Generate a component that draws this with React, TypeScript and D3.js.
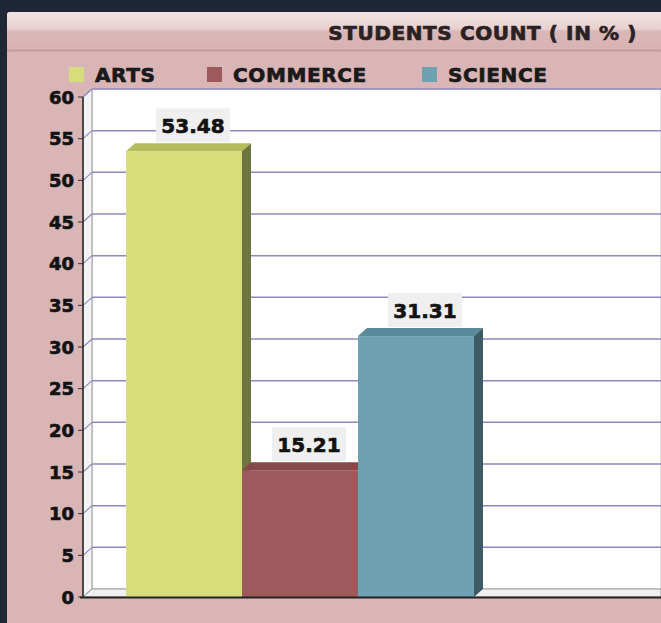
import React from "react";
import * as d3 from "d3";

// chart data
const categories = ["ARTS", "COMMERCE", "SCIENCE"];
const values = [53.48, 15.21, 31.31];
const yTicks = [0, 5, 10, 15, 20, 25, 30, 35, 40, 45, 50, 55, 60];
const title = "STUDENTS COUNT ( IN % )";

const colors: Record<string, { front: string; top: string; side: string }> = {
	ARTS: { front: "#d6dd7a", top: "#b4bc5c", side: "#6e7440" },
	COMMERCE: { front: "#9c5a5c", top: "#864848", side: "#643535" },
	SCIENCE: { front: "#6ea1b2", top: "#588a9a", side: "#3d5b64" },
};

const W = 661;
const H = 623;
const DX = 9; // 3d depth
const DY = 8;
const font = "'DejaVu Sans', sans-serif";

export default function App() {
	const axisX = 83;
	const yScale = d3.scaleLinear().domain([0, 60]).range([597, 97]);
	const xScale = d3.scaleBand().domain(categories).range([126, 474]).padding(0);

	const gridTicks = yTicks.filter((t) => t > 0);

	// heavy text, the original has a thick dark glyph edge
	const heavy = { fontFamily: font, fontWeight: "bold" as const, stroke: "#1a1a1a", strokeWidth: 0.7 };

	return (
		<svg width={W} height={H} style={{ position: "absolute", left: 0, top: 0 }}>
			<defs>
				<linearGradient id="hdr" x1="0" y1="0" x2="0" y2="1">
					<stop offset="0" stopColor="#f2e3e3" />
					<stop offset="0.45" stopColor="#e8d0d0" />
					<stop offset="0.5" stopColor="#dbb8b8" />
					<stop offset="1" stopColor="#d7b2b2" />
				</linearGradient>
			</defs>
			<rect x={0} y={0} width={W} height={H} fill="#1f2637" />
			<rect x={7} y={12} width={W} height={H} rx={3} fill="#d9b5b5" />
			<rect x={7} y={12} width={W} height={38} rx={3} fill="url(#hdr)" />
			<line x1={7} x2={W} y1={50.5} y2={50.5} stroke="#c49c9c" strokeWidth={2} />
			<text x={637} y={40} textAnchor="end" fontSize={20} letterSpacing={0.6} fill="#2a2222" {...heavy} stroke="#2a2222">
				{title}
			</text>

			{/* legend */}
			{categories.map((c, i) => {
				const lx = [69, 207, 422][i];
				return (
					<g key={c}>
						<rect x={lx} y={67} width={15} height={15} fill={colors[c].front} />
						<text x={lx + 26} y={82} fontSize={20} letterSpacing={0.6} fill="#1a1a1a" {...heavy}>
							{c}
						</text>
					</g>
				);
			})}

			{/* back wall */}
			<rect x={axisX + DX} y={yScale(60) - DY} width={W - axisX - DX} height={yScale(0) - yScale(60)} fill="#ffffff" stroke="#bbbbbb" strokeWidth={1} />
			{/* left wall */}
			<polygon
				points={`${axisX},${yScale(60)} ${axisX + DX},${yScale(60) - DY} ${axisX + DX},${yScale(0) - DY} ${axisX},${yScale(0)}`}
				fill="#f3f3f3"
				stroke="#999"
				strokeWidth={1}
			/>
			{/* floor */}
			<polygon
				points={`${axisX},${yScale(0)} ${axisX + DX},${yScale(0) - DY} ${W},${yScale(0) - DY} ${W},${yScale(0)}`}
				fill="#f0f0f0"
				stroke="#999"
				strokeWidth={1}
			/>

			{/* grid */}
			{gridTicks.map((t) => (
				<g key={t}>
					<line x1={axisX + DX} x2={W} y1={yScale(t) - DY} y2={yScale(t) - DY} stroke="#8e88c2" strokeWidth={1.5} />
					<line x1={axisX} x2={axisX + DX} y1={yScale(t)} y2={yScale(t) - DY} stroke="#8e88c2" strokeWidth={1.2} />
				</g>
			))}

			{/* bars */}
			{categories.map((c, i) => {
				const v = values[i];
				const x0 = xScale(c) as number;
				const x1 = x0 + xScale.bandwidth();
				const yt = yScale(v);
				const y0 = yScale(0);
				const col = colors[c];
				return (
					<g key={c}>
						<rect x={x0} y={yt} width={x1 - x0} height={y0 - yt} fill={col.front} />
						<polygon points={`${x0},${yt} ${x0 + DX},${yt - DY} ${x1 + DX},${yt - DY} ${x1},${yt}`} fill={col.top} />
						<polygon points={`${x1},${yt} ${x1 + DX},${yt - DY} ${x1 + DX},${y0 - DY} ${x1},${y0}`} fill={col.side} />
					</g>
				);
			})}

			{/* value labels */}
			{categories.map((c, i) => {
				const v = values[i];
				const cx = (xScale(c) as number) + xScale.bandwidth() / 2 + DX;
				const bottom = yScale(v) - DY - 1;
				return (
					<g key={c}>
						<rect x={cx - 37} y={bottom - 34} width={74} height={34} fill="#efefef" />
						<text x={cx} y={bottom - 9} textAnchor="middle" fontSize={20} fill="#111" {...heavy}>
							{v.toFixed(2)}
						</text>
					</g>
				);
			})}

			{/* axes */}
			<line x1={axisX} x2={axisX} y1={yScale(60)} y2={yScale(0)} stroke="#222" strokeWidth={1.5} />
			<line x1={axisX - 3} x2={W} y1={yScale(0) + 0.5} y2={yScale(0) + 0.5} stroke="#222" strokeWidth={2} />
			{yTicks.map((t) => (
				<g key={t}>
					<line x1={axisX - 5} x2={axisX} y1={yScale(t)} y2={yScale(t)} stroke="#333" strokeWidth={1} />
					<text x={axisX - 9} y={yScale(t) + 6.5} textAnchor="end" fontSize={18} fill="#111" {...heavy}>
						{t}
					</text>
				</g>
			))}
		</svg>
	);
}
